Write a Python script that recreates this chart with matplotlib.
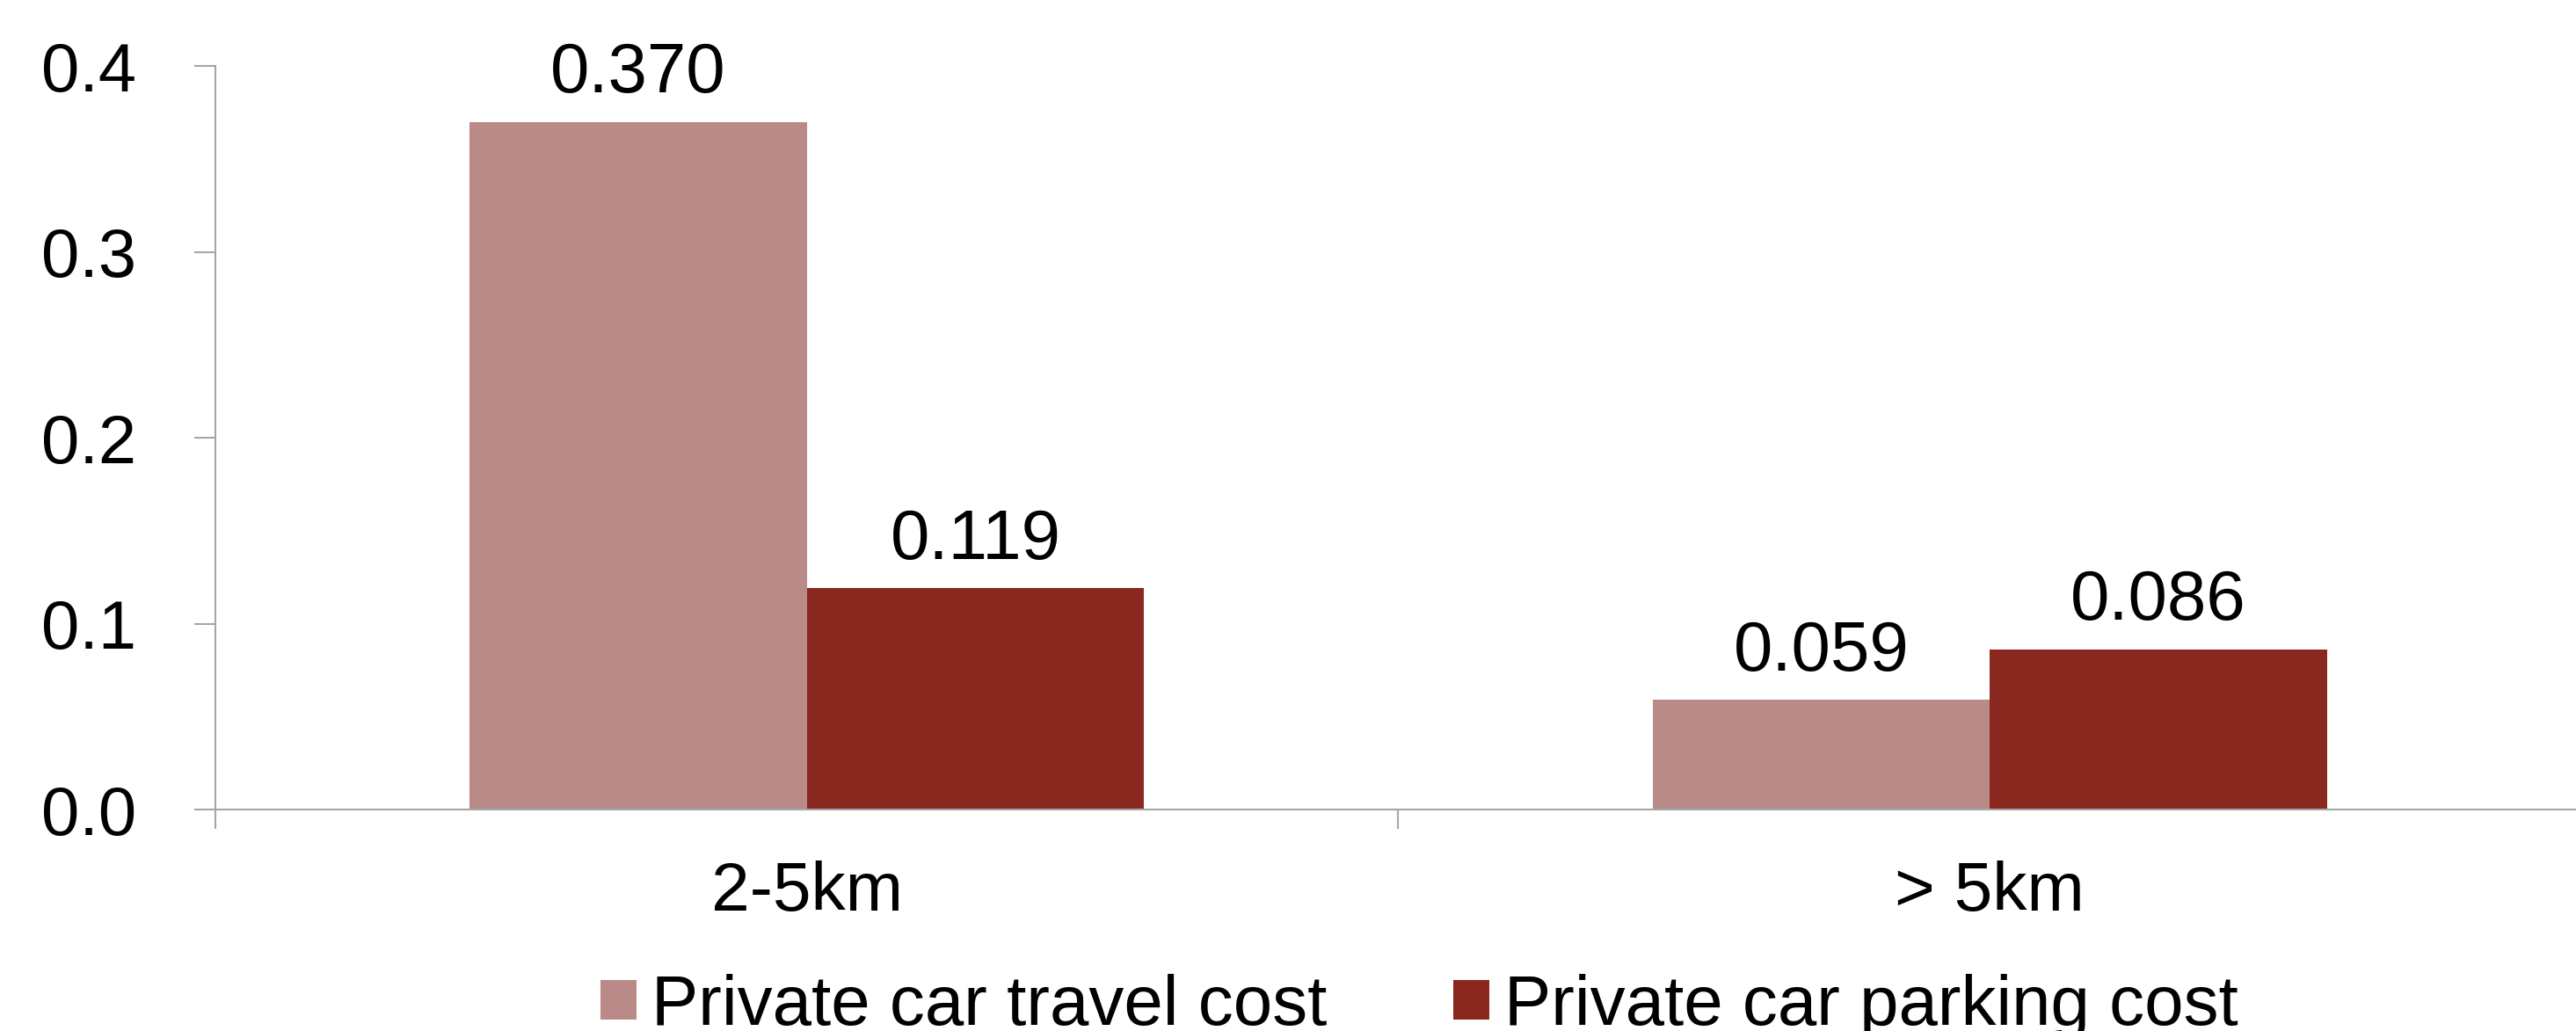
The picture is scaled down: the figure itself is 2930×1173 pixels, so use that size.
import matplotlib
matplotlib.use("Agg")
import matplotlib.pyplot as plt
import numpy as np

categories = ["2-5km", "> 5km"]
series_names = ["Private car travel cost", "Private car parking cost"]
travel_cost = [0.370, 0.059]
parking_cost = [0.119, 0.086]
y_ticks = [0.0, 0.1, 0.2, 0.3, 0.4]
y_tick_labels = ["0.0", "0.1", "0.2", "0.3", "0.4"]

colors = ["#B98A87", "#8A271E"]

plt.rcParams['font.family'] = ['Liberation Sans', 'DejaVu Sans']

fig = plt.figure(figsize=(29.3, 11.73), dpi=100)
ax = fig.add_axes([0.0836, 0.2148, 0.9184, 0.7212])

x = np.arange(len(categories))
w = 0.285
b1 = ax.bar(x - w / 2, travel_cost, width=w, color=colors[0], label=series_names[0])
b2 = ax.bar(x + w / 2, parking_cost, width=w, color=colors[1], label=series_names[1])

ax.bar_label(b1, fmt="%.3f", padding=12, fontsize=57.5)
ax.bar_label(b2, fmt="%.3f", padding=12, fontsize=57.5)

ax.set_xlim(-0.5, 1.5)
ax.set_ylim(0, 0.4)
ax.set_yticks(y_ticks)
ax.set_yticklabels(y_tick_labels)

ax.set_xticks([-0.5, 0.5, 1.5])
ax.set_xticklabels([])
ax.set_xticks(x, minor=True)
ax.set_xticklabels(categories, minor=True)

gray = "#A6A6A6"
for s in ["top", "right"]:
    ax.spines[s].set_visible(False)
for s in ["left", "bottom"]:
    ax.spines[s].set_color(gray)
    ax.spines[s].set_linewidth(1.5)

ax.tick_params(axis="y", which="major", length=17, width=1.5, color=gray,
               labelsize=56, pad=48)
ax.tick_params(axis="x", which="major", length=16, width=1.5, color=gray)
ax.tick_params(axis="x", which="minor", length=0, labelsize=56.5, pad=42)

fig.legend(handles=[b1, b2], labels=series_names, loc="center",
           bbox_to_anchor=(0.551, 0.0235), ncol=2, frameon=False,
           fontsize=57.5, handlelength=0.513, handleheight=0.5,
           handletextpad=0.21, columnspacing=1.8)

fig.savefig("out.png", dpi=100)
